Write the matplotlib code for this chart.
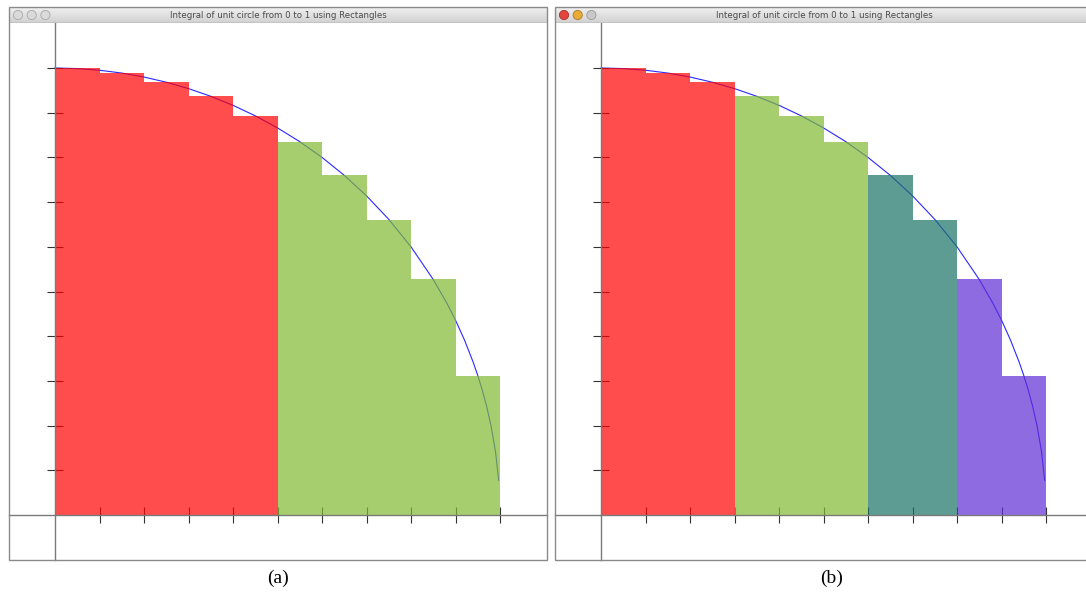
import matplotlib
matplotlib.use("Agg")
from matplotlib import pyplot as plt
from matplotlib.patches import Rectangle, Circle
import numpy as np

# rectangle left edges and heights
rect_left = [0.0, 0.1, 0.2, 0.3, 0.4, 0.5, 0.6, 0.7, 0.8, 0.9]
rect_height = [0.999, 0.989, 0.968, 0.937, 0.893, 0.835, 0.760, 0.661, 0.527, 0.312]
rect_width = 0.1

# the quarter circle drawn in blue
curve_x = [0.0, 0.05, 0.1, 0.15, 0.2, 0.25, 0.3, 0.35, 0.4, 0.45, 0.5, 0.55, 0.6,
           0.65, 0.7, 0.75, 0.8, 0.85, 0.88, 0.9, 0.92, 0.94, 0.95, 0.96, 0.97,
           0.98, 0.99, 0.997]
curve_y = [1.0, 0.9987, 0.995, 0.9887, 0.9798, 0.9682, 0.9539, 0.9367, 0.9165,
           0.893, 0.866, 0.8352, 0.8, 0.7599, 0.7141, 0.6614, 0.6, 0.5268, 0.4750,
           0.4359, 0.3919, 0.3412, 0.3122, 0.2800, 0.2431, 0.1990, 0.1411, 0.0774]

# how many rectangles each colour group covers in panel (a) and (b)
groups_a = [5, 5]
groups_b = [3, 3, 2, 2]
tick_values = [0.1, 0.2, 0.3, 0.4, 0.5, 0.6, 0.7, 0.8, 0.9, 1.0]

window_title = "Integral of unit circle from 0 to 1 using Rectangles"
captions = ["(a)", "(b)"]

GROUP_COLORS = ["#ff0000", "#80ba30", "#197266", "#5f2cd3"]
W, H = 1086, 592


def fig_box(x0, y0, x1, y1):
    """pixel box (top-left origin) -> figure fraction rect"""
    return [x0 / W, 1 - y1 / H, (x1 - x0) / W, (y1 - y0) / H]


def draw_window(fig, x0, x1, groups, active):
    top, bar_bottom, bottom = 7, 23, 560
    origin_x, origin_y, scale_x, scale_y = x0 + 46, 515, 445.0, 447.0

    # plot area
    ax = fig.add_axes(fig_box(x0, bar_bottom, x1, bottom))
    ax.set_xlim((x0 - origin_x) / scale_x, (x1 - origin_x) / scale_x)
    ax.set_ylim((origin_y - bottom) / scale_y, (origin_y - bar_bottom) / scale_y)
    ax.plot(curve_x, curve_y, color="#2a2aff", lw=0.8, zorder=1)
    start = 0
    for g, n in enumerate(groups):
        ax.bar(rect_left[start:start + n], rect_height[start:start + n], rect_width,
               align="edge", color=GROUP_COLORS[g], alpha=0.7, linewidth=0, zorder=2)
        start += n
    for side in ["top", "right"]:
        ax.spines[side].set_visible(False)
    ax.spines["left"].set_position(("data", 0))
    ax.spines["bottom"].set_position(("data", 0))
    for side in ["left", "bottom"]:
        ax.spines[side].set_color("#7a7a7a")
        ax.spines[side].set_linewidth(1.0)
        ax.spines[side].set_zorder(3)
    ax.set_xticks(tick_values)
    ax.set_yticks(tick_values)
    ax.tick_params(direction="inout", length=11, width=0.8, color="#333333",
                   labelbottom=False, labelleft=False)
    ax.patch.set_alpha(0)

    # window frame
    fig.patches.append(Rectangle((x0 / W, 1 - bottom / H), (x1 - x0) / W, (bottom - top) / H,
                                 transform=fig.transFigure, fill=False,
                                 edgecolor="#8a8a8a", lw=1.0, zorder=5))

    # title bar
    tb = fig.add_axes(fig_box(x0, top, x1, bar_bottom))
    grad = np.linspace(0.94, 0.82, 32).reshape(-1, 1)
    tb.imshow(grad, cmap="gray", vmin=0, vmax=1, aspect="auto",
              extent=[0, x1 - x0, 0, bar_bottom - top])
    tb.set_xlim(0, x1 - x0)
    tb.set_ylim(0, bar_bottom - top)
    tb.axhline(0.3, color="#8a8a8a", lw=1.0)
    tb.axis("off")
    if active:
        dots = [("#e4443c", "#a83028"), ("#e8ac36", "#a8782a"), ("#c8c8c8", "#9a9a9a")]
    else:
        dots = [("#dadada", "#a8a8a8")] * 3
    for k, (fc, ec) in enumerate(dots):
        tb.add_patch(Circle((9 + 13.7 * k, 8), 4.6, facecolor=fc, edgecolor=ec, lw=0.6))
    tb.text((x1 - x0) / 2, 8, window_title, ha="center", va="center",
            fontsize=6.2, color="#4a4a4a", family="DejaVu Sans")
    return ax


fig = plt.figure(figsize=(W / 100, H / 100), dpi=100)
fig.patch.set_facecolor("white")
draw_window(fig, 9, 547, groups_a, active=False)
draw_window(fig, 555, 1093, groups_b, active=True)
fig.text(278 / W, 1 - 578 / H, captions[0], ha="center", va="center",
         fontsize=14, family="Liberation Serif")
fig.text(832 / W, 1 - 578 / H, captions[1], ha="center", va="center",
         fontsize=14, family="Liberation Serif")
fig.savefig("out.png", dpi=100)
